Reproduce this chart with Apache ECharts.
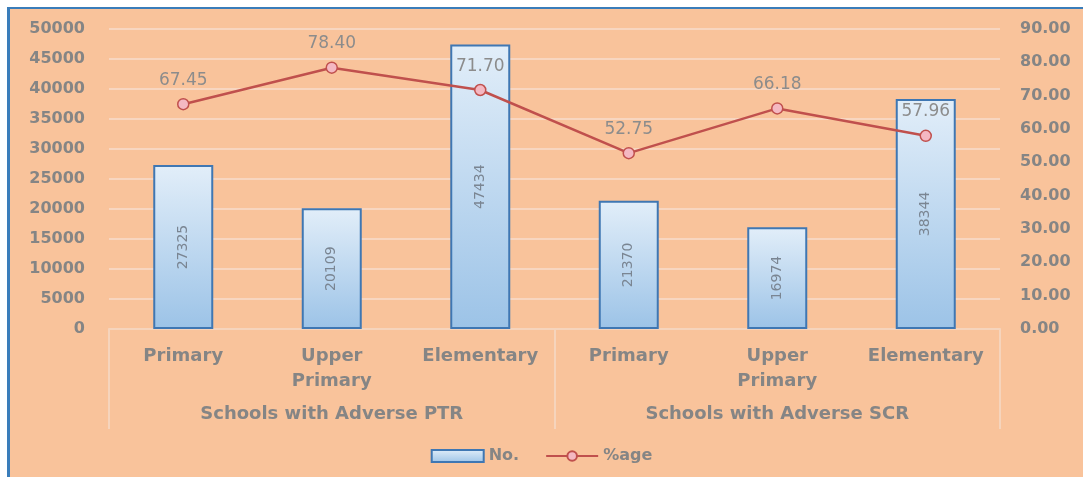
<!DOCTYPE html>
<html>
<head>
<meta charset="utf-8">
<script src="https://cdn.jsdelivr.net/npm/echarts@6/dist/echarts.min.js"></script>
<style>
  html, body { margin: 0; padding: 0; background: #ffffff; }
  #frame { position: absolute; left: 7px; top: 7px; width: 1076px; height: 470px;
           background: #F9C39B; border-top: 2px solid #3A7DBA; border-left: 3px solid #3A7DBA; box-sizing: border-box; }
  #chart { position: absolute; left: 0; top: 0; width: 1083px; height: 477px; }
</style>
</head>
<body>
<div id="frame"></div>
<div id="chart"></div>
<script>
const categories = ['Primary', 'Upper\nPrimary', 'Elementary', 'Primary', 'Upper\nPrimary', 'Elementary'];
const groups = ['Schools with Adverse PTR', 'Schools with Adverse SCR'];
const countValues = [27325, 20109, 47434, 21370, 16974, 38344];
const percentValues = [67.45, 78.40, 71.70, 52.75, 66.18, 57.96];
const seriesNames = ['No.', '%age'];

const FONT = 'DejaVu Sans';
const GRAY = '#858585';

const chart = echarts.init(document.getElementById('chart'), null, { renderer: 'canvas' });
chart.setOption({
  backgroundColor: 'transparent',
  animation: false,
  textStyle: { fontFamily: FONT },
  grid: { left: 109, right: 83, top: 29, bottom: 148, containLabel: false },
  legend: {
    data: [{ name: seriesNames[0], icon: 'rect' }, { name: seriesNames[1] }],
    bottom: 8,
    left: 'center',
    itemWidth: 52,
    itemHeight: 12,
    itemGap: 26,
    textStyle: { fontFamily: FONT, fontSize: 16, fontWeight: 'bold', color: GRAY }
  },
  xAxis: [
    {
      type: 'category',
      data: categories,
      axisLine: { show: true, lineStyle: { color: '#F6D4BC', width: 2 } },
      axisTick: { show: false },
      axisLabel: {
        interval: 0, margin: 15, lineHeight: 25,
        fontFamily: FONT, fontSize: 18, fontWeight: 'bold', color: GRAY
      }
    },
    {
      type: 'category',
      data: groups,
      position: 'bottom',
      axisLine: { show: false },
      axisTick: { show: true, length: 100, lineStyle: { color: '#F6D4BC', width: 2 } },
      axisLabel: {
        interval: 0, margin: 76,
        fontFamily: FONT, fontSize: 18, fontWeight: 'bold', color: GRAY
      },
      splitLine: { show: false }
    }
  ],
  yAxis: [
    {
      type: 'value', min: 0, max: 50000, interval: 5000,
      axisLine: { show: false }, axisTick: { show: false },
      axisLabel: { margin: 24, fontFamily: FONT, fontSize: 16, fontWeight: 'bold', color: GRAY,
                   formatter: v => String(v) },
      splitLine: { show: true, lineStyle: { color: '#F8D6C0', width: 2 } }
    },
    {
      type: 'value', min: 0, max: 90, interval: 10, position: 'right',
      axisLine: { show: false }, axisTick: { show: false },
      axisLabel: { margin: 20, fontFamily: FONT, fontSize: 16, fontWeight: 'bold', color: GRAY,
                   formatter: v => v.toFixed(2) },
      splitLine: { show: false }
    }
  ],
  series: [
    {
      name: seriesNames[0],
      type: 'bar',
      data: countValues,
      barWidth: 60,
      itemStyle: {
        color: new echarts.graphic.LinearGradient(0, 0, 0, 1, [
          { offset: 0, color: '#E2EEF9' },
          { offset: 1, color: '#9CC3E7' }
        ]),
        borderColor: '#3F77B3',
        borderWidth: 2
      },
      label: {
        show: true, position: 'inside', rotate: 90,
        fontFamily: FONT, fontSize: 14, color: '#7A8592'
      },
      z: 2
    },
    {
      name: seriesNames[1],
      type: 'line',
      yAxisIndex: 1,
      data: percentValues,
      symbol: 'circle',
      symbolSize: 11,
      lineStyle: { color: '#C0504D', width: 2.5 },
      itemStyle: { color: '#F4B8C2', borderColor: '#C0504D', borderWidth: 1.5 },
      label: {
        show: true, position: 'top', distance: 9,
        fontFamily: FONT, fontSize: 17, color: '#8C8C8C',
        formatter: p => p.value.toFixed(2)
      },
      z: 5
    }
  ]
});
</script>
</body>
</html>
